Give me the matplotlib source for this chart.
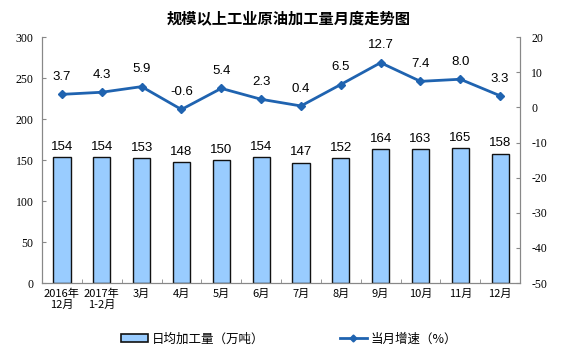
import numpy as np
import matplotlib.pyplot as plt
from matplotlib.lines import Line2D
from matplotlib.patches import Patch

plt.rcParams['font.family'] = ['Liberation Sans', 'Noto Sans CJK SC']
plt.rcParams['axes.unicode_minus'] = False

# data
months = ['2016年\n12月', '2017年\n1-2月', '3月', '4月', '5月', '6月',
          '7月', '8月', '9月', '10月', '11月', '12月']
output = [154, 154, 153, 148, 150, 154, 147, 152, 164, 163, 165, 158]
growth = [3.7, 4.3, 5.9, -0.6, 5.4, 2.3, 0.4, 6.5, 12.7, 7.4, 8.0, 3.3]

bar_color = '#99CCFF'
line_color = '#1F63B0'
axis_color = '#888888'

fig = plt.figure(figsize=(5.78, 3.53), dpi=100)
ax = fig.add_axes([0.0727, 0.198, 0.827, 0.697])
ax2 = ax.twinx()

x = np.arange(len(months))
ax.bar(x, output, width=0.43, color=bar_color, edgecolor='#111111', linewidth=1.0, zorder=2)
for xi, v in zip(x, output):
    ax.text(xi, v + 5, str(v), ha='center', va='bottom', fontsize=9.5,
            family=['Liberation Sans'])

ax.set_xlim(-0.5, len(months) - 0.5)
ax.set_ylim(0, 300)
ax.set_yticks(range(0, 301, 50))
ax.set_xticks(x)
ax.set_xticklabels(months, fontsize=8, family=['Noto Sans CJK SC'], linespacing=1.1)
ax.set_xticks(np.arange(-0.5, len(months), 1), minor=True)
ax.tick_params(axis='x', which='major', length=0, pad=4)
ax.tick_params(axis='x', which='minor', length=3, direction='in', color=axis_color)
ax.tick_params(axis='y', direction='in', length=3, color=axis_color, labelsize=8.5,
               labelfontfamily='Liberation Serif', pad=6)

ax2.plot(x, growth, color=line_color, linewidth=2, marker='D', markersize=4.5, zorder=3)
for xi, v in zip(x, growth):
    ax2.text(xi, v + 3.2, f'{v:.1f}', ha='center', va='bottom', fontsize=9.5,
             family=['Liberation Sans'])
ax2.set_ylim(-50, 20)
ax2.set_yticks(range(-50, 21, 10))
ax2.tick_params(axis='y', direction='in', length=3, color=axis_color, labelsize=8.5,
                labelfontfamily='Liberation Serif', pad=8)

for a in (ax, ax2):
    a.spines['top'].set_visible(False)
    for s in ('left', 'right', 'bottom'):
        a.spines[s].set_color(axis_color)

fig.text(0.5, 0.945, '规模以上工业原油加工量月度走势图', ha='center', va='center',
         fontsize=11, fontweight='bold', family=['Noto Sans CJK SC'])

handles = [Patch(facecolor=bar_color, edgecolor='#111111', linewidth=1.2),
           Line2D([0], [0], color=line_color, linewidth=2, marker='D', markersize=3.5)]
fig.legend(handles, ['日均加工量（万吨）', '当月增速（%）'], loc='center',
           bbox_to_anchor=(0.5, 0.04), ncol=2, frameon=False, columnspacing=6,
           handlelength=2.2, handletextpad=0.3,
           prop={'family': ['Noto Sans CJK SC'], 'size': 9})

fig.savefig('out.png', dpi=100)
